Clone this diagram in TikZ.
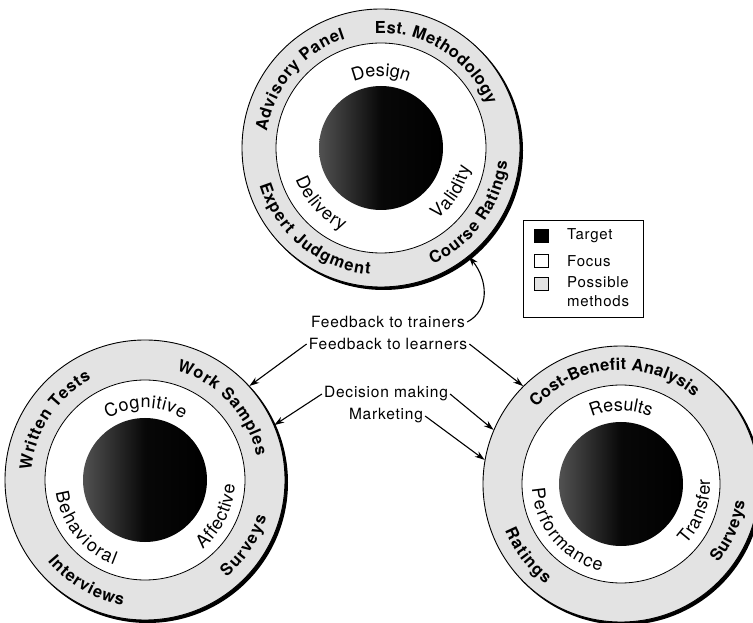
\documentclass[tikz,border=0pt]{standalone}
\usepackage{fontspec}
\setmainfont{TeX Gyre Heros}
\newfontfamily\lsfont[LetterSpace=5]{TeX Gyre Heros}
\usetikzlibrary{decorations.text,arrows.meta}
\newcommand\ofont{\bfseries\fontsize{16.5}{18}\selectfont}
\newcommand\ifont{\fontsize{18}{20}\selectfont}
\newcommand\ctfont{\lsfont\fontsize{15.5}{17}\selectfont}
\newcommand\lgfont{\lsfont\fontsize{15}{19}\selectfont}
\newcommand\arctop[5]{\path[decorate,decoration={text along path,text align=center,text={|#4|#5}}]
  ([shift={({#3+70}:#2)}]#1) arc[start angle={#3+70},end angle={#3-70},radius=#2];}
\newcommand\arcfit[6]{\path[decorate,decoration={text along path,text align={fit to path},text={|#5|#6}}]
  ([shift={(#3:#2)}]#1) arc[start angle=#3,end angle=#4,radius=#2];}
\tikzset{
  methods/.style={circle,draw=black,line width=0.9pt,fill=black!11,inner sep=0pt},
  focus/.style={circle,draw=black,line width=0.8pt,fill=white,inner sep=0pt},
  target/.style={circle,inner sep=0pt,minimum size=124pt,shade,left color=black!68,right color=black,middle color=black!97},
  arr/.style={-{Stealth[length=10pt,width=6.5pt]},line width=1.1pt},
  ctext/.style={font=\ctfont,inner sep=2pt},
  legbox/.style={draw=black,line width=0.6pt},
  legsq/.style={draw=black,line width=0.6pt,minimum width=14pt,minimum height=13pt,inner sep=0pt},
  legtext/.style={font=\lgfont,anchor=west,inner sep=0pt,align=left},
}
\begin{document}
\begin{tikzpicture}[x=1pt,y=1pt]
\useasboundingbox (0,0) rectangle (753,622);
\coordinate (Tc) at (381,474);
\coordinate (Lc) at (145,142);
\coordinate (Rc) at (621,138);
% shadows
\fill ([shift={(2.5,-2.5)}]Tc) circle (139.5);
\fill ([shift={(2.5,-2.5)}]Lc) circle (140.5);
\fill ([shift={(2.5,-2.5)}]Rc) circle (138.5);
% top target
\node[methods,minimum size=278pt] (Tout) at (Tc) {};
\node[focus,minimum size=210pt] (Tin) at (Tc) {};
\node[target] (Tt) at (Tc) {};
% left target
\node[methods,minimum size=280pt] (Lout) at (Lc) {};
\node[focus,minimum size=200pt] (Lin) at (Lc) {};
\node[target] (Lt) at (Lc) {};
% right target
\node[methods,minimum size=276pt] (Rout) at (Rc) {};
\node[focus,minimum size=198pt] (Rin) at (Rc) {};
\node[target] (Rt) at (Rc) {};
% top labels
\arcfit{Tc}{115}{172}{108}{\ofont}{Advisory Panel}
\arcfit{Tc}{115}{93}{22}{\ofont}{Est. Methodology}
\arcfit{Tc}{127}{197}{265}{\ofont}{Expert Judgment}
\arcfit{Tc}{127}{294}{354}{\ofont}{Course Ratings}
\arctop{Tc}{72}{90}{\ifont}{Design}
\arcfit{Tc}{91}{200}{245}{\ifont}{Delivery}
\arcfit{Tc}{91}{308}{348}{\ifont}{Validity}
% left labels
\arcfit{Lc}{114}{175}{118}{\ofont}{Written Tests}
\arcfit{Lc}{114}{74}{12}{\ofont}{Work Samples}
\arcfit{Lc}{127}{220}{260}{\ofont}{Interviews}
\arcfit{Lc}{127}{310}{343}{\ofont}{Surveys}
\arcfit{Lc}{72}{121}{58}{\ifont}{Cognitive}
\arcfit{Lc}{90}{188}{250}{\ifont}{Behavioral}
\arcfit{Lc}{90}{310}{357}{\ifont}{Affective}
% right labels
\arcfit{Rc}{114}{138}{50}{\ofont}{Cost-Benefit Analysis}
\arctop{Rc}{73}{90}{\ifont}{Results}
\arcfit{Rc}{89}{183}{257}{\ifont}{Performance}
\arcfit{Rc}{89}{317}{363}{\ifont}{Transfer}
\arcfit{Rc}{125}{202}{233}{\ofont}{Ratings}
\arcfit{Rc}{125}{321}{352}{\ofont}{Surveys}
% central texts
\node[ctext] (trainers) at (388,300) {Feedback to trainers};
\node[ctext] (learners) at (388,278) {Feedback to learners};
\node[ctext] (decision) at (386,228) {Decision making};
\node[ctext] (marketing) at (386,206) {Marketing};
% arrows
\draw[arr] (trainers.east) .. controls (490,312) and (488,342) .. (Tout.309);
\draw[arr] (learners.west) -- (Lout.42);
\draw[arr] (learners.east) -- (Rout.135);
\draw[arr] (decision.west) -- (Lout.23);
\draw[arr] (decision.east) -- (Rout.157);
\draw[arr] (marketing.east) -- (Rout.170);
% legend
\node[legbox,minimum width=120pt,minimum height=97pt,inner sep=0pt] (legend) at (583,353.5) {};
\node[legsq,fill=black] (sq1) at (541,386) {};
\node[legsq,fill=white] (sq2) at (541,361) {};
\node[legsq,fill=black!11] (sq3) at (541,338) {};
\node[legtext] (lt1) at (567,386) {Target};
\node[legtext] (lt2) at (567,361) {Focus};
\node[legtext,anchor=north west] (lt3) at (567,346) {Possible\\methods};
\end{tikzpicture}
\end{document}
